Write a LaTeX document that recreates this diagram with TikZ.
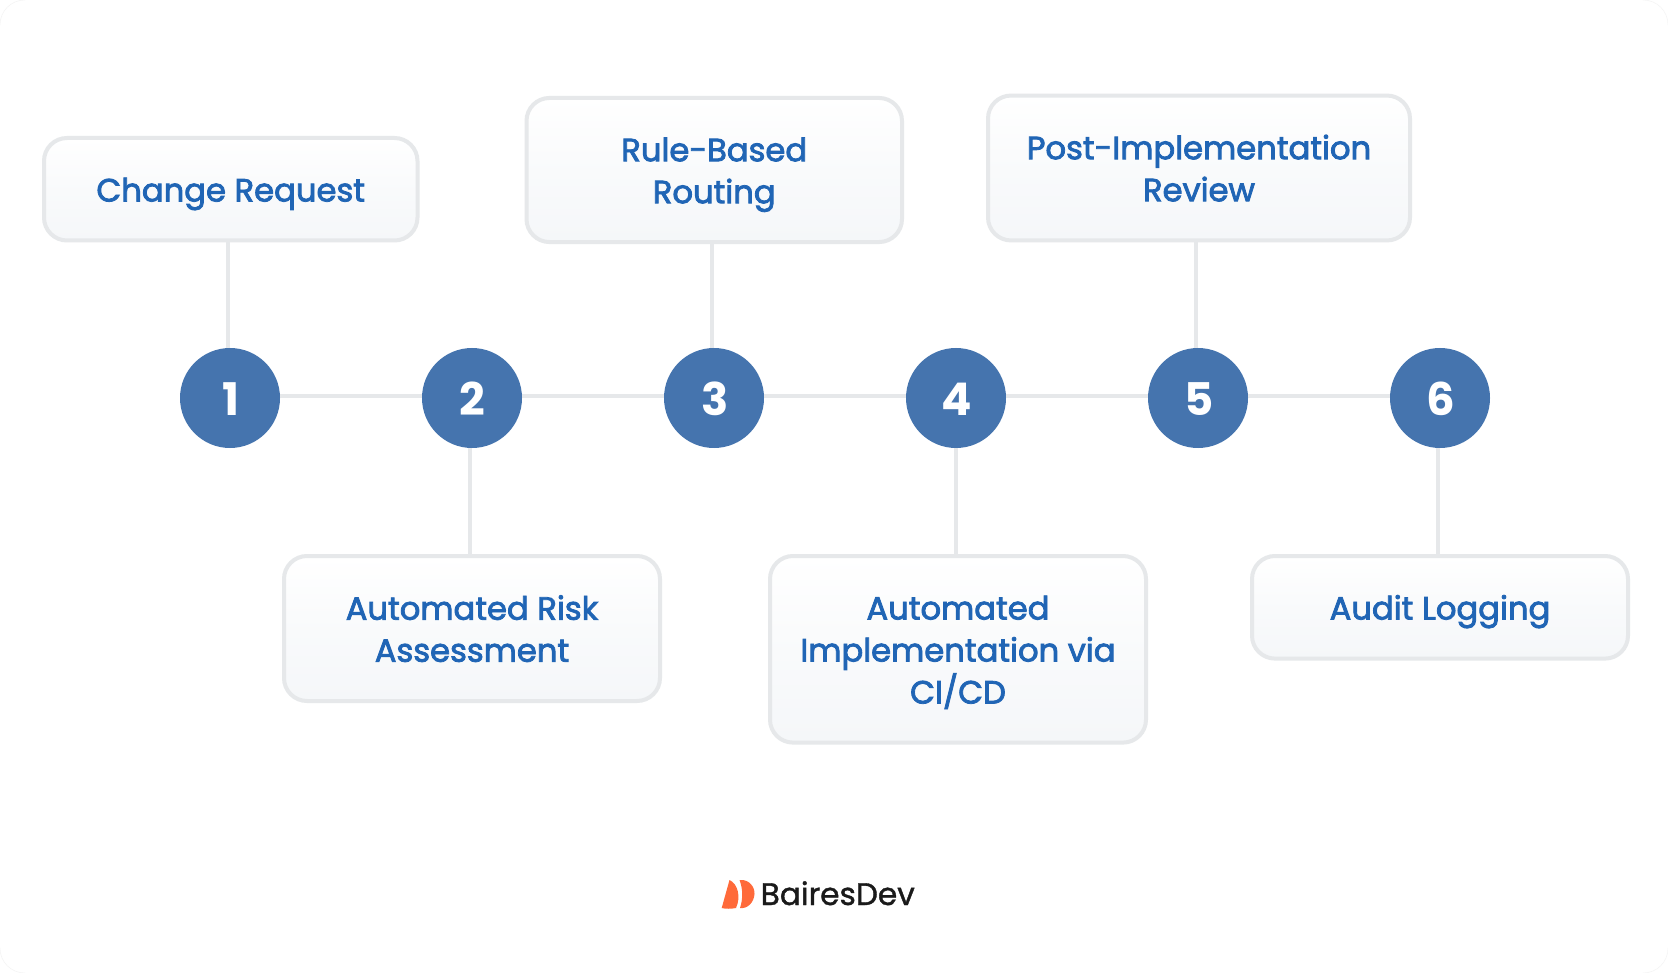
\documentclass[tikz,border=0pt]{standalone}
\usepackage{fontspec}
\setmainfont{Poppins}
\newfontfamily\boxfont[FakeBold=2.5]{Poppins}
\newfontfamily\logofont[FakeBold=1.2]{Poppins}
\newfontfamily\numfont{Poppins}
\usetikzlibrary{backgrounds}
\definecolor{linegray}{HTML}{E6E8EA}
\definecolor{textblue}{HTML}{2065B5}
\definecolor{circblue}{HTML}{4574AE}
\definecolor{logoorange}{HTML}{FF6A3A}
\definecolor{boxbot}{HTML}{F5F7F9}
\definecolor{logotext}{HTML}{1A1A1A}
\newcommand\topr{\rule{0pt}{34.5pt}}
\newcommand\botr{\rule[-10pt]{0pt}{10pt}}
\tikzset{
  x=1pt,y=-1pt,
  card/.style={draw=linegray,line width=4pt,rounded corners=23pt,top color=white,bottom color=boxbot,
    middle color=white!40!boxbot,text=textblue,align=center,inner sep=0pt,
    font=\boxfont\fontsize{32.2}{42}\selectfont},
  stepnum/.style={circle,fill=circblue,minimum size=100pt,inner sep=0pt,text=white,
    font=\numfont\bfseries\fontsize{45}{45}\selectfont},
  conn/.style={draw=linegray,line width=4pt},
  pagecorner/.style={draw=black!4,line width=0.6pt}
}
\begin{document}
\begin{tikzpicture}
\useasboundingbox (0,0) rectangle (1668,973);
\foreach \n/\x/\t in {1/230/1,2/472/2,3/714/3,4/956/4,5/1198/5,6/1440/6}
  \node[stepnum] (c\n) at (\x,398) {\hspace{1.5pt}\raisebox{0pt}[35.4pt][0pt]{\t}};
\node[card,minimum width=373.5pt,minimum height=102.5pt] (b1) at (230.75,189.25) {\topr Change Request\botr};
\node[card,minimum width=376pt,minimum height=145pt] (b2) at (472,628.5) {\topr Automated Risk\\Assessment\botr};
\node[card,minimum width=375.5pt,minimum height=144.1pt] (b3) at (714.25,170) {\topr Rule-Based\\Routing\botr};
\node[card,minimum width=376pt,minimum height=186.6pt] (b4) at (958,649.3) {\topr Automated\\Implementation via\\CI/CD\botr};
\node[card,minimum width=422pt,minimum height=144.9pt] (b5) at (1199,168) {\topr Post-Implementation\\Review\botr};
\node[card,minimum width=376pt,minimum height=102.6pt] (b6) at (1440,607.3) {\topr Audit Logging\botr};
\begin{scope}[on background layer]
\fill[white] (0,0) rectangle (1668,973);
\draw[pagecorner] (0,25) .. controls (0,11) and (11,0) .. (25,0);
\draw[pagecorner] (1643,0) .. controls (1657,0) and (1668,11) .. (1668,25);
\draw[pagecorner] (0,948) .. controls (0,962) and (11,973) .. (25,973);
\draw[pagecorner] (1643,973) .. controls (1657,973) and (1668,962) .. (1668,948);
\foreach \a/\b in {1/2,2/3,3/4,4/5,5/6}
  \draw[conn] ([yshift=2pt]c\a.east) -- ([yshift=2pt]c\b.west);
\draw[conn] ([xshift=-2pt]c1.north) -- ([xshift=-2pt]c1.north |- b1.south);
\draw[conn] ([xshift=-2pt]c2.south) -- ([xshift=-2pt]c2.south |- b2.north);
\draw[conn] ([xshift=-2pt]c3.north) -- ([xshift=-2pt]c3.north |- b3.south);
\draw[conn] (c4.south) -- (c4.south |- b4.north);
\draw[conn] ([xshift=-2pt]c5.north) -- ([xshift=-2pt]c5.north |- b5.south);
\draw[conn] ([xshift=-2pt]c6.south) -- ([xshift=-2pt]c6.south |- b6.north);
\end{scope}
% logo
\fill[logoorange] (721.7,908) -- (729.5,880) .. controls (738,884) and (741,897) .. (736,908) .. controls (731,909) and (725,909) .. cycle;
\fill[logoorange] (739.5,880) .. controls (750,879) and (755,888) .. (754.5,894) .. controls (754,902) and (748,909) .. (740,908) .. controls (743,899) and (743,889) .. cycle;
\node[anchor=base west,inner sep=0pt,text=logotext,font=\logofont\fontsize{31.2}{32}\selectfont] (logo) at (760.5,905) {BairesDev};
\end{tikzpicture}
\end{document}
